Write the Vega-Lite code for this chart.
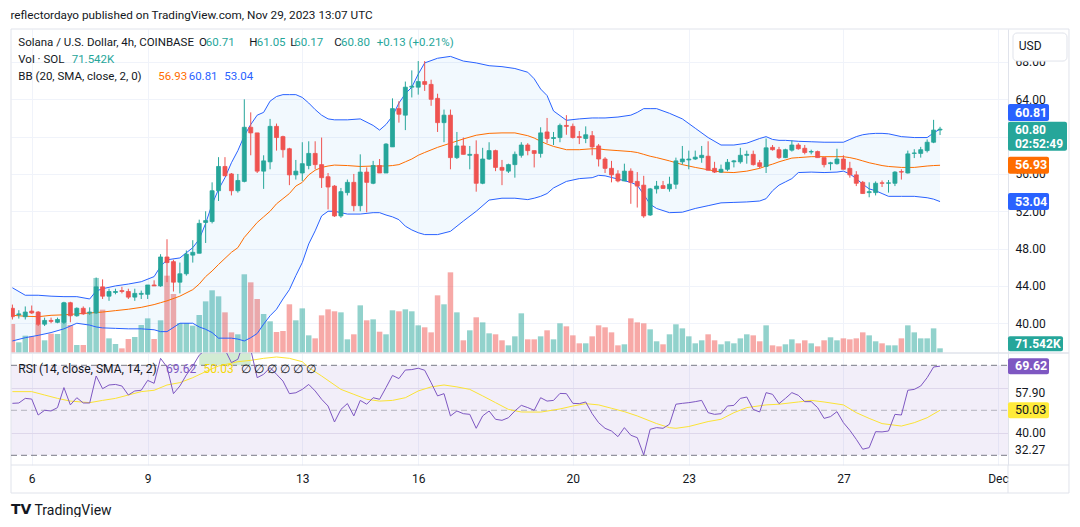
{
"$schema": "https://vega.github.io/schema/vega-lite/v6.json",
"padding": {"left": 10, "top": 9, "right": 0, "bottom": 0},
"background": "white",
"bounds": "flush",
"title": {"text": "reflectordayo published on TradingView.com, Nov 29, 2023 13:07 UTC", "anchor": "start", "font": "Roboto", "fontSize": 11.75, "fontWeight": "normal", "color": "#131722", "offset": 7},
"config": {"font": "Roboto", "view": {"stroke": null}, "axis": {"labelFont": "Roboto", "labelFontSize": 12, "labelColor": "#131722", "gridColor": "#f0f3fa", "domainColor": "#e0e3eb", "ticks": false}, "text": {"font": "Roboto"}, "scale": {"continuousPadding": 0}},
"datasets": {
"candles": [
{"t":"2023-11-05T12:00Z","o":41.6,"h":42.0,"l":40.4,"c":40.7,"v":444,"r":53.1},
{"t":"2023-11-05T16:00Z","o":40.9,"h":41.4,"l":40.5,"c":41.0,"v":163,"r":53.25},
{"t":"2023-11-05T20:00Z","o":40.7,"h":41.8,"l":40.4,"c":41.2,"v":265,"r":55.3},
{"t":"2023-11-06T00:00Z","o":41.3,"h":41.9,"l":41.0,"c":41.1,"v":255,"r":55.0},
{"t":"2023-11-06T04:00Z","o":41.2,"h":41.3,"l":39.7,"c":39.9,"v":444,"r":47.9},
{"t":"2023-11-06T08:00Z","o":39.9,"h":40.6,"l":39.7,"c":40.3,"v":194,"r":50.0},
{"t":"2023-11-06T12:00Z","o":40.3,"h":40.6,"l":40.0,"c":40.2,"v":296,"r":49.7},
{"t":"2023-11-06T16:00Z","o":40.1,"h":40.6,"l":40.0,"c":40.4,"v":291,"r":51.2},
{"t":"2023-11-06T20:00Z","o":40.1,"h":42.3,"l":39.9,"c":42.2,"v":765,"r":60.1},
{"t":"2023-11-07T00:00Z","o":42.2,"h":42.3,"l":40.1,"c":40.8,"v":428,"r":52.4},
{"t":"2023-11-07T04:00Z","o":40.8,"h":41.7,"l":40.7,"c":41.6,"v":122,"r":55.6},
{"t":"2023-11-07T08:00Z","o":41.6,"h":41.8,"l":40.9,"c":41.0,"v":122,"r":53.25},
{"t":"2023-11-07T12:00Z","o":41.1,"h":41.7,"l":40.9,"c":41.2,"v":612,"r":53.25},
{"t":"2023-11-07T16:00Z","o":41.1,"h":44.9,"l":41.0,"c":43.9,"v":1148,"r":65.25},
{"t":"2023-11-07T20:00Z","o":43.9,"h":44.7,"l":42.6,"c":42.9,"v":663,"r":59.6},
{"t":"2023-11-08T00:00Z","o":42.9,"h":43.7,"l":42.4,"c":43.4,"v":224,"r":61.25},
{"t":"2023-11-08T04:00Z","o":43.3,"h":43.7,"l":43.1,"c":43.4,"v":138,"r":61.5},
{"t":"2023-11-08T08:00Z","o":43.5,"h":43.9,"l":43.2,"c":43.4,"v":71,"r":60.8},
{"t":"2023-11-08T12:00Z","o":43.4,"h":43.7,"l":42.6,"c":42.8,"v":214,"r":56.8},
{"t":"2023-11-08T16:00Z","o":42.8,"h":43.7,"l":42.4,"c":43.2,"v":245,"r":58.6},
{"t":"2023-11-08T20:00Z","o":43.1,"h":43.5,"l":42.6,"c":43.2,"v":428,"r":58.9},
{"t":"2023-11-09T00:00Z","o":43.1,"h":44.1,"l":42.6,"c":44.1,"v":530,"r":63.3},
{"t":"2023-11-09T04:00Z","o":44.1,"h":44.6,"l":44.0,"c":44.0,"v":214,"r":62.0},
{"t":"2023-11-09T08:00Z","o":44.0,"h":47.4,"l":43.9,"c":47.1,"v":500,"r":73.1},
{"t":"2023-11-09T12:00Z","o":47.1,"h":49.0,"l":44.4,"c":46.5,"v":1183,"r":69.2},
{"t":"2023-11-09T16:00Z","o":46.6,"h":46.8,"l":43.4,"c":44.4,"v":903,"r":57.4},
{"t":"2023-11-09T20:00Z","o":44.4,"h":46.5,"l":43.2,"c":45.3,"v":459,"r":60.8},
{"t":"2023-11-10T00:00Z","o":45.3,"h":47.8,"l":45.1,"c":47.4,"v":459,"r":65.7},
{"t":"2023-11-10T04:00Z","o":47.3,"h":48.9,"l":46.5,"c":47.6,"v":418,"r":69.7},
{"t":"2023-11-10T08:00Z","o":47.5,"h":51.1,"l":47.5,"c":50.7,"v":581,"r":74.5},
{"t":"2023-11-10T12:00Z","o":50.8,"h":52.0,"l":48.6,"c":51.0,"v":790,"r":77},
{"t":"2023-11-10T16:00Z","o":50.9,"h":55.1,"l":50.7,"c":54.2,"v":959,"r":82},
{"t":"2023-11-10T20:00Z","o":54.2,"h":57.8,"l":53.1,"c":56.8,"v":867,"r":85},
{"t":"2023-11-11T00:00Z","o":56.8,"h":57.8,"l":55.8,"c":55.8,"v":622,"r":77},
{"t":"2023-11-11T04:00Z","o":56.0,"h":56.1,"l":53.7,"c":54.2,"v":316,"r":71.2},
{"t":"2023-11-11T08:00Z","o":54.2,"h":56.0,"l":54.0,"c":55.3,"v":286,"r":72.7},
{"t":"2023-11-11T12:00Z","o":55.2,"h":64.0,"l":55.1,"c":61.0,"v":1204,"r":81},
{"t":"2023-11-11T16:00Z","o":61.0,"h":62.6,"l":58.0,"c":60.4,"v":1081,"r":77},
{"t":"2023-11-11T20:00Z","o":60.4,"h":60.4,"l":56.1,"c":56.3,"v":826,"r":64.5},
{"t":"2023-11-12T00:00Z","o":56.3,"h":58.0,"l":54.4,"c":57.4,"v":597,"r":66.0},
{"t":"2023-11-12T04:00Z","o":57.3,"h":61.9,"l":56.5,"c":61.1,"v":485,"r":69.0},
{"t":"2023-11-12T08:00Z","o":61.1,"h":61.4,"l":58.5,"c":59.9,"v":321,"r":66.0},
{"t":"2023-11-12T12:00Z","o":60.0,"h":60.1,"l":57.75,"c":58.6,"v":337,"r":63.0},
{"t":"2023-11-12T16:00Z","o":58.7,"h":58.8,"l":54.8,"c":55.9,"v":745,"r":57.4},
{"t":"2023-11-12T20:00Z","o":55.9,"h":57.5,"l":55.4,"c":56.3,"v":500,"r":57.8},
{"t":"2023-11-13T00:00Z","o":56.1,"h":59.4,"l":55.25,"c":57.1,"v":683,"r":59.3},
{"t":"2023-11-13T04:00Z","o":56.9,"h":59.5,"l":56.5,"c":58.2,"v":270,"r":61.5},
{"t":"2023-11-13T08:00Z","o":58.2,"h":59.5,"l":56.5,"c":57.0,"v":224,"r":58.6},
{"t":"2023-11-13T12:00Z","o":57.0,"h":59.9,"l":54.5,"c":55.6,"v":576,"r":54.9},
{"t":"2023-11-13T16:00Z","o":55.7,"h":56.1,"l":52.2,"c":54.6,"v":668,"r":51.9},
{"t":"2023-11-13T20:00Z","o":54.7,"h":54.8,"l":51.4,"c":51.5,"v":638,"r":44.8},
{"t":"2023-11-14T00:00Z","o":51.5,"h":54.5,"l":51.3,"c":54.1,"v":622,"r":50.4},
{"t":"2023-11-14T04:00Z","o":54.0,"h":55.4,"l":53.7,"c":55.1,"v":209,"r":53.0},
{"t":"2023-11-14T08:00Z","o":55.1,"h":56.0,"l":52.0,"c":52.6,"v":286,"r":47.5},
{"t":"2023-11-14T12:00Z","o":52.6,"h":58.1,"l":52.0,"c":56.2,"v":729,"r":54.4},
{"t":"2023-11-14T16:00Z","o":56.2,"h":56.7,"l":51.9,"c":55.1,"v":500,"r":52.7},
{"t":"2023-11-14T20:00Z","o":55.0,"h":57.4,"l":54.9,"c":56.9,"v":515,"r":55.6},
{"t":"2023-11-15T00:00Z","o":56.9,"h":57.6,"l":56.1,"c":56.1,"v":326,"r":54.9},
{"t":"2023-11-15T04:00Z","o":56.1,"h":59.3,"l":56.1,"c":59.2,"v":286,"r":60.1},
{"t":"2023-11-15T08:00Z","o":58.9,"h":64.1,"l":58.9,"c":63.0,"v":653,"r":65.5},
{"t":"2023-11-15T12:00Z","o":63.0,"h":63.8,"l":61.5,"c":62.4,"v":638,"r":64.1},
{"t":"2023-11-15T16:00Z","o":62.3,"h":65.9,"l":60.7,"c":65.3,"v":668,"r":67.9},
{"t":"2023-11-15T20:00Z","o":65.3,"h":67.1,"l":64.2,"c":65.4,"v":638,"r":68.1},
{"t":"2023-11-16T00:00Z","o":65.3,"h":68.1,"l":64.5,"c":65.9,"v":423,"r":68.7},
{"t":"2023-11-16T04:00Z","o":65.9,"h":68.1,"l":64.9,"c":65.6,"v":393,"r":67.8},
{"t":"2023-11-16T08:00Z","o":65.6,"h":66.1,"l":63.3,"c":64.0,"v":316,"r":62.3},
{"t":"2023-11-16T12:00Z","o":64.1,"h":64.6,"l":60.5,"c":61.5,"v":882,"r":56.4},
{"t":"2023-11-16T16:00Z","o":61.5,"h":62.9,"l":59.4,"c":62.3,"v":745,"r":57.4},
{"t":"2023-11-16T20:00Z","o":62.3,"h":62.9,"l":56.5,"c":57.75,"v":1234,"r":47.5},
{"t":"2023-11-17T00:00Z","o":57.75,"h":60.5,"l":57.6,"c":59.0,"v":622,"r":49.7},
{"t":"2023-11-17T04:00Z","o":59.0,"h":59.9,"l":58.1,"c":58.1,"v":194,"r":48.5},
{"t":"2023-11-17T08:00Z","o":58.0,"h":59.0,"l":56.5,"c":58.1,"v":347,"r":48.2},
{"t":"2023-11-17T12:00Z","o":58.1,"h":59.6,"l":54.1,"c":55.0,"v":546,"r":42.0},
{"t":"2023-11-17T16:00Z","o":55.0,"h":58.8,"l":54.9,"c":57.6,"v":469,"r":47.5},
{"t":"2023-11-17T20:00Z","o":57.6,"h":59.4,"l":57.5,"c":58.5,"v":301,"r":49.7},
{"t":"2023-11-18T00:00Z","o":58.5,"h":58.6,"l":56.3,"c":56.7,"v":286,"r":46.0},
{"t":"2023-11-18T04:00Z","o":56.7,"h":57.5,"l":54.8,"c":56.4,"v":194,"r":45.55},
{"t":"2023-11-18T08:00Z","o":56.3,"h":57.1,"l":56.1,"c":57.0,"v":117,"r":46.7},
{"t":"2023-11-18T12:00Z","o":57.0,"h":58.4,"l":55.6,"c":58.1,"v":255,"r":49.7},
{"t":"2023-11-18T16:00Z","o":58.0,"h":59.4,"l":57.75,"c":59.1,"v":607,"r":52.2},
{"t":"2023-11-18T20:00Z","o":59.1,"h":59.3,"l":58.0,"c":58.5,"v":209,"r":51.2},
{"t":"2023-11-19T00:00Z","o":58.5,"h":58.5,"l":56.7,"c":58.2,"v":209,"r":50.0},
{"t":"2023-11-19T04:00Z","o":58.2,"h":61.0,"l":57.75,"c":60.4,"v":255,"r":55.6},
{"t":"2023-11-19T08:00Z","o":60.5,"h":62.0,"l":59.3,"c":59.8,"v":347,"r":54.1},
{"t":"2023-11-19T12:00Z","o":59.8,"h":60.5,"l":59.1,"c":59.9,"v":209,"r":54.4},
{"t":"2023-11-19T16:00Z","o":59.9,"h":61.4,"l":59.4,"c":61.2,"v":454,"r":57.5},
{"t":"2023-11-19T20:00Z","o":61.2,"h":62.3,"l":60.2,"c":61.1,"v":408,"r":57.4},
{"t":"2023-11-20T00:00Z","o":61.1,"h":61.4,"l":59.8,"c":59.9,"v":270,"r":53.1},
{"t":"2023-11-20T04:00Z","o":60.0,"h":60.6,"l":59.2,"c":59.9,"v":148,"r":52.95},
{"t":"2023-11-20T08:00Z","o":59.8,"h":61.1,"l":59.3,"c":60.2,"v":148,"r":53.7},
{"t":"2023-11-20T12:00Z","o":60.1,"h":60.6,"l":58.0,"c":58.9,"v":255,"r":48.5},
{"t":"2023-11-20T16:00Z","o":59.0,"h":59.2,"l":56.8,"c":57.6,"v":423,"r":44.5},
{"t":"2023-11-20T20:00Z","o":57.6,"h":57.8,"l":56.1,"c":56.6,"v":393,"r":42.0},
{"t":"2023-11-21T00:00Z","o":56.6,"h":57.4,"l":55.1,"c":55.9,"v":316,"r":40.8},
{"t":"2023-11-21T04:00Z","o":56.0,"h":56.4,"l":55.1,"c":55.25,"v":117,"r":38.3},
{"t":"2023-11-21T08:00Z","o":55.25,"h":57.1,"l":55.25,"c":56.3,"v":133,"r":42.3},
{"t":"2023-11-21T12:00Z","o":56.3,"h":56.6,"l":52.8,"c":55.1,"v":530,"r":38.9},
{"t":"2023-11-21T16:00Z","o":55.2,"h":56.2,"l":52.4,"c":54.7,"v":469,"r":37.85},
{"t":"2023-11-21T20:00Z","o":54.8,"h":55.8,"l":51.3,"c":51.5,"v":454,"r":30.15},
{"t":"2023-11-22T00:00Z","o":51.6,"h":54.5,"l":51.5,"c":54.4,"v":362,"r":41.55},
{"t":"2023-11-22T04:00Z","o":54.4,"h":55.25,"l":53.9,"c":54.7,"v":179,"r":42.3},
{"t":"2023-11-22T08:00Z","o":54.75,"h":55.25,"l":54.4,"c":54.45,"v":133,"r":42.0},
{"t":"2023-11-22T12:00Z","o":54.4,"h":55.7,"l":54.1,"c":54.9,"v":286,"r":43.8},
{"t":"2023-11-22T16:00Z","o":54.9,"h":57.75,"l":54.4,"c":57.4,"v":439,"r":52.7},
{"t":"2023-11-22T20:00Z","o":57.3,"h":59.0,"l":57.0,"c":57.6,"v":377,"r":53.1},
{"t":"2023-11-23T00:00Z","o":57.5,"h":58.5,"l":56.5,"c":57.6,"v":255,"r":53.4},
{"t":"2023-11-23T04:00Z","o":57.6,"h":58.5,"l":57.5,"c":57.8,"v":148,"r":53.85},
{"t":"2023-11-23T08:00Z","o":57.75,"h":59.0,"l":57.2,"c":58.0,"v":194,"r":54.4},
{"t":"2023-11-23T12:00Z","o":57.9,"h":59.5,"l":56.4,"c":56.4,"v":286,"r":48.95},
{"t":"2023-11-23T16:00Z","o":56.6,"h":57.3,"l":56.1,"c":56.2,"v":194,"r":48.2},
{"t":"2023-11-23T20:00Z","o":56.2,"h":57.0,"l":56.1,"c":56.5,"v":133,"r":48.5},
{"t":"2023-11-24T00:00Z","o":56.5,"h":57.6,"l":56.3,"c":57.25,"v":179,"r":51.9},
{"t":"2023-11-24T04:00Z","o":57.3,"h":57.5,"l":56.7,"c":57.4,"v":148,"r":52.2},
{"t":"2023-11-24T08:00Z","o":57.3,"h":58.8,"l":57.1,"c":58.0,"v":224,"r":55.3},
{"t":"2023-11-24T12:00Z","o":58.0,"h":58.5,"l":57.1,"c":58.1,"v":286,"r":55.9},
{"t":"2023-11-24T16:00Z","o":58.1,"h":58.5,"l":56.9,"c":57.0,"v":270,"r":50.4},
{"t":"2023-11-24T20:00Z","o":57.2,"h":57.5,"l":56.6,"c":56.8,"v":179,"r":49.25},
{"t":"2023-11-25T00:00Z","o":56.8,"h":59.8,"l":56.1,"c":58.8,"v":423,"r":57.85},
{"t":"2023-11-25T04:00Z","o":58.85,"h":59.1,"l":58.5,"c":58.6,"v":117,"r":57.1},
{"t":"2023-11-25T08:00Z","o":58.6,"h":58.9,"l":57.6,"c":57.75,"v":102,"r":52.95},
{"t":"2023-11-25T12:00Z","o":57.75,"h":58.7,"l":57.7,"c":58.6,"v":133,"r":55.3},
{"t":"2023-11-25T16:00Z","o":58.55,"h":59.6,"l":58.4,"c":59.1,"v":209,"r":57.85},
{"t":"2023-11-25T20:00Z","o":59.1,"h":59.3,"l":58.6,"c":58.7,"v":148,"r":56.65},
{"t":"2023-11-26T00:00Z","o":58.75,"h":59.1,"l":58.1,"c":58.3,"v":194,"r":53.85},
{"t":"2023-11-26T04:00Z","o":58.35,"h":58.6,"l":58.1,"c":58.4,"v":148,"r":53.85},
{"t":"2023-11-26T08:00Z","o":58.4,"h":58.5,"l":57.75,"c":57.75,"v":102,"r":51.2},
{"t":"2023-11-26T12:00Z","o":57.75,"h":57.75,"l":56.7,"c":57.0,"v":194,"r":46.4},
{"t":"2023-11-26T16:00Z","o":57.1,"h":57.3,"l":56.4,"c":57.2,"v":240,"r":47.2},
{"t":"2023-11-26T20:00Z","o":57.1,"h":58.7,"l":57.0,"c":57.6,"v":194,"r":49.4},
{"t":"2023-11-27T00:00Z","o":57.6,"h":58.0,"l":56.5,"c":56.5,"v":224,"r":44.5},
{"t":"2023-11-27T04:00Z","o":56.6,"h":57.3,"l":55.6,"c":55.9,"v":209,"r":41.1},
{"t":"2023-11-27T08:00Z","o":55.9,"h":56.3,"l":54.7,"c":55.0,"v":224,"r":37.1},
{"t":"2023-11-27T12:00Z","o":55.1,"h":55.25,"l":53.9,"c":53.9,"v":316,"r":32.7},
{"t":"2023-11-27T16:00Z","o":54.0,"h":55.1,"l":53.5,"c":54.1,"v":270,"r":33.4},
{"t":"2023-11-27T20:00Z","o":54.0,"h":55.2,"l":53.7,"c":55.0,"v":179,"r":40.5},
{"t":"2023-11-28T00:00Z","o":55.05,"h":55.3,"l":54.6,"c":55.0,"v":148,"r":40.4},
{"t":"2023-11-28T04:00Z","o":55.0,"h":55.35,"l":54.0,"c":55.05,"v":117,"r":40.8},
{"t":"2023-11-28T08:00Z","o":55.0,"h":56.3,"l":54.7,"c":56.2,"v":117,"r":48.2},
{"t":"2023-11-28T12:00Z","o":56.25,"h":56.5,"l":55.4,"c":56.2,"v":224,"r":47.9},
{"t":"2023-11-28T16:00Z","o":56.1,"h":58.5,"l":56.05,"c":58.15,"v":423,"r":58.9},
{"t":"2023-11-28T20:00Z","o":58.2,"h":58.65,"l":57.7,"c":58.25,"v":316,"r":59.3},
{"t":"2023-11-29T00:00Z","o":58.2,"h":58.9,"l":57.75,"c":58.6,"v":224,"r":60.8},
{"t":"2023-11-29T04:00Z","o":58.5,"h":59.7,"l":58.3,"c":59.4,"v":224,"r":64.5},
{"t":"2023-11-29T08:00Z","o":59.4,"h":61.8,"l":59.3,"c":60.7,"v":377,"r":69.25},
{"t":"2023-11-29T12:00Z","o":60.71,"h":61.05,"l":60.17,"c":60.8,"v":71.542,"r":69.62}
],
"bb": [
{"t":"2023-11-05T12:00Z","up":43.8,"mid":40.85,"lo":38.1},
{"t":"2023-11-05T20:00Z","up":43.0,"mid":40.75,"lo":38.45},
{"t":"2023-11-06T04:00Z","up":43.0,"mid":40.7,"lo":38.7},
{"t":"2023-11-06T12:00Z","up":42.9,"mid":40.85,"lo":39.0},
{"t":"2023-11-06T20:00Z","up":42.85,"mid":40.9,"lo":39.4},
{"t":"2023-11-07T04:00Z","up":42.85,"mid":41.0,"lo":40.0},
{"t":"2023-11-07T12:00Z","up":42.6,"mid":41.1,"lo":39.8},
{"t":"2023-11-07T16:00Z","up":43.45,"mid":41.15,"lo":39.6},
{"t":"2023-11-07T20:00Z","up":43.7,"mid":41.2,"lo":39.5},
{"t":"2023-11-08T04:00Z","up":44.0,"mid":41.35,"lo":39.45},
{"t":"2023-11-08T12:00Z","up":44.2,"mid":41.5,"lo":39.4},
{"t":"2023-11-08T20:00Z","up":44.45,"mid":41.7,"lo":39.4},
{"t":"2023-11-09T04:00Z","up":45.0,"mid":42.0,"lo":39.3},
{"t":"2023-11-09T08:00Z","up":46.1,"mid":42.2,"lo":39.1},
{"t":"2023-11-09T12:00Z","up":46.8,"mid":42.4,"lo":39.1},
{"t":"2023-11-09T20:00Z","up":47.0,"mid":42.9,"lo":40.0},
{"t":"2023-11-10T04:00Z","up":48.1,"mid":43.6,"lo":40.0},
{"t":"2023-11-10T08:00Z","up":49.0,"mid":44.2,"lo":39.6},
{"t":"2023-11-10T12:00Z","up":50.7,"mid":45.0,"lo":39.35},
{"t":"2023-11-10T16:00Z","up":52.75,"mid":45.6,"lo":39.0},
{"t":"2023-11-10T20:00Z","up":54.35,"mid":46.3,"lo":38.4},
{"t":"2023-11-11T00:00Z","up":55.6,"mid":46.95,"lo":38.4},
{"t":"2023-11-11T04:00Z","up":57.2,"mid":47.6,"lo":38.4},
{"t":"2023-11-11T08:00Z","up":58.5,"mid":48.1,"lo":38.3},
{"t":"2023-11-11T12:00Z","up":60.1,"mid":49.2,"lo":38.1},
{"t":"2023-11-11T16:00Z","up":61.3,"mid":50.0,"lo":38.45},
{"t":"2023-11-11T20:00Z","up":62.3,"mid":50.8,"lo":38.9},
{"t":"2023-11-12T00:00Z","up":62.6,"mid":51.4,"lo":39.9},
{"t":"2023-11-12T04:00Z","up":63.8,"mid":52.0,"lo":40.8},
{"t":"2023-11-12T08:00Z","up":64.3,"mid":52.8,"lo":41.5},
{"t":"2023-11-12T12:00Z","up":64.5,"mid":53.35,"lo":42.6},
{"t":"2023-11-12T16:00Z","up":64.5,"mid":53.9,"lo":43.6},
{"t":"2023-11-12T20:00Z","up":64.5,"mid":54.7,"lo":45.1},
{"t":"2023-11-13T00:00Z","up":64.2,"mid":55.1,"lo":46.5},
{"t":"2023-11-13T04:00Z","up":63.6,"mid":55.9,"lo":48.5},
{"t":"2023-11-13T08:00Z","up":62.9,"mid":56.4,"lo":49.9},
{"t":"2023-11-13T12:00Z","up":62.3,"mid":56.7,"lo":51.5},
{"t":"2023-11-13T16:00Z","up":61.9,"mid":56.85,"lo":52.0},
{"t":"2023-11-13T20:00Z","up":61.8,"mid":56.95,"lo":52.0},
{"t":"2023-11-14T04:00Z","up":61.8,"mid":56.9,"lo":51.7},
{"t":"2023-11-14T12:00Z","up":61.9,"mid":56.8,"lo":51.7},
{"t":"2023-11-14T20:00Z","up":61.2,"mid":56.85,"lo":51.85},
{"t":"2023-11-15T00:00Z","up":60.7,"mid":56.85,"lo":51.85},
{"t":"2023-11-15T04:00Z","up":61.3,"mid":56.85,"lo":51.6},
{"t":"2023-11-15T08:00Z","up":62.2,"mid":56.9,"lo":51.4},
{"t":"2023-11-15T12:00Z","up":63.6,"mid":57.0,"lo":51.1},
{"t":"2023-11-15T16:00Z","up":64.6,"mid":57.3,"lo":50.4},
{"t":"2023-11-15T20:00Z","up":65.3,"mid":57.6,"lo":50.0},
{"t":"2023-11-16T00:00Z","up":66.7,"mid":58.0,"lo":49.7},
{"t":"2023-11-16T04:00Z","up":67.9,"mid":58.3,"lo":49.5},
{"t":"2023-11-16T12:00Z","up":68.4,"mid":58.85,"lo":49.5},
{"t":"2023-11-16T20:00Z","up":68.6,"mid":59.3,"lo":49.85},
{"t":"2023-11-17T04:00Z","up":68.1,"mid":59.75,"lo":50.95},
{"t":"2023-11-17T12:00Z","up":67.9,"mid":60.15,"lo":52.0},
{"t":"2023-11-17T20:00Z","up":67.6,"mid":60.35,"lo":53.2},
{"t":"2023-11-18T04:00Z","up":67.5,"mid":60.4,"lo":53.4},
{"t":"2023-11-18T12:00Z","up":67.3,"mid":60.4,"lo":53.4},
{"t":"2023-11-18T20:00Z","up":66.9,"mid":60.1,"lo":53.25},
{"t":"2023-11-19T00:00Z","up":66.2,"mid":59.85,"lo":53.4},
{"t":"2023-11-19T04:00Z","up":65.1,"mid":59.5,"lo":53.6},
{"t":"2023-11-19T08:00Z","up":64.4,"mid":59.2,"lo":53.9},
{"t":"2023-11-19T12:00Z","up":62.75,"mid":58.95,"lo":54.5},
{"t":"2023-11-19T20:00Z","up":61.75,"mid":58.6,"lo":55.2},
{"t":"2023-11-20T04:00Z","up":61.9,"mid":58.6,"lo":55.5},
{"t":"2023-11-20T12:00Z","up":62.0,"mid":58.7,"lo":55.6},
{"t":"2023-11-20T16:00Z","up":62.0,"mid":58.7,"lo":55.85},
{"t":"2023-11-20T20:00Z","up":62.0,"mid":58.6,"lo":55.8},
{"t":"2023-11-21T04:00Z","up":62.1,"mid":58.5,"lo":55.45},
{"t":"2023-11-21T12:00Z","up":62.3,"mid":58.4,"lo":55.1},
{"t":"2023-11-21T16:00Z","up":62.6,"mid":58.3,"lo":54.8},
{"t":"2023-11-21T20:00Z","up":63.0,"mid":58.1,"lo":53.8},
{"t":"2023-11-22T00:00Z","up":63.0,"mid":57.9,"lo":52.75},
{"t":"2023-11-22T04:00Z","up":63.0,"mid":57.75,"lo":52.3},
{"t":"2023-11-22T12:00Z","up":62.5,"mid":57.4,"lo":51.85},
{"t":"2023-11-22T20:00Z","up":61.9,"mid":57.0,"lo":51.9},
{"t":"2023-11-23T04:00Z","up":60.9,"mid":56.7,"lo":52.3},
{"t":"2023-11-23T12:00Z","up":59.9,"mid":56.45,"lo":52.6},
{"t":"2023-11-23T20:00Z","up":59.1,"mid":56.2,"lo":52.9},
{"t":"2023-11-24T04:00Z","up":59.1,"mid":56.15,"lo":52.95},
{"t":"2023-11-24T12:00Z","up":59.3,"mid":56.3,"lo":53.0},
{"t":"2023-11-24T20:00Z","up":59.8,"mid":56.6,"lo":53.1},
{"t":"2023-11-25T00:00Z","up":60.0,"mid":56.85,"lo":53.35},
{"t":"2023-11-25T04:00Z","up":59.7,"mid":57.05,"lo":54.2},
{"t":"2023-11-25T08:00Z","up":59.6,"mid":57.3,"lo":54.8},
{"t":"2023-11-25T12:00Z","up":59.6,"mid":57.5,"lo":55.15},
{"t":"2023-11-25T16:00Z","up":59.55,"mid":57.7,"lo":55.5},
{"t":"2023-11-25T20:00Z","up":59.5,"mid":57.75,"lo":56.15},
{"t":"2023-11-26T04:00Z","up":59.45,"mid":57.85,"lo":56.2},
{"t":"2023-11-26T12:00Z","up":59.4,"mid":57.85,"lo":56.15},
{"t":"2023-11-26T20:00Z","up":59.4,"mid":57.85,"lo":56.2},
{"t":"2023-11-27T00:00Z","up":59.4,"mid":57.85,"lo":56.3},
{"t":"2023-11-27T04:00Z","up":59.7,"mid":57.75,"lo":56.0},
{"t":"2023-11-27T08:00Z","up":60.0,"mid":57.6,"lo":55.5},
{"t":"2023-11-27T12:00Z","up":60.2,"mid":57.4,"lo":54.9},
{"t":"2023-11-27T16:00Z","up":60.3,"mid":57.2,"lo":54.4},
{"t":"2023-11-27T20:00Z","up":60.35,"mid":57.05,"lo":54.2},
{"t":"2023-11-28T00:00Z","up":60.35,"mid":56.9,"lo":53.9},
{"t":"2023-11-28T04:00Z","up":60.3,"mid":56.8,"lo":53.6},
{"t":"2023-11-28T12:00Z","up":60.0,"mid":56.7,"lo":53.6},
{"t":"2023-11-28T20:00Z","up":59.9,"mid":56.7,"lo":53.6},
{"t":"2023-11-29T04:00Z","up":59.9,"mid":56.85,"lo":53.45},
{"t":"2023-11-29T08:00Z","up":60.4,"mid":56.9,"lo":53.3},
{"t":"2023-11-29T12:00Z","up":60.81,"mid":56.93,"lo":53.04}
],
"sma": [
{"t":"2023-11-05T12:00Z","s":58.3},{"t":"2023-11-06T00:00Z","s":58.3},{"t":"2023-11-06T08:00Z","s":56.8},{"t":"2023-11-06T16:00Z","s":55.3},
{"t":"2023-11-07T00:00Z","s":54.1},{"t":"2023-11-07T12:00Z","s":53.4},{"t":"2023-11-07T20:00Z","s":54.4},{"t":"2023-11-08T04:00Z","s":55.3},
{"t":"2023-11-08T12:00Z","s":56.8},{"t":"2023-11-08T20:00Z","s":58.3},{"t":"2023-11-09T04:00Z","s":58.9},{"t":"2023-11-09T12:00Z","s":61.25},
{"t":"2023-11-09T20:00Z","s":62.3},{"t":"2023-11-10T04:00Z","s":64.5},{"t":"2023-11-10T12:00Z","s":67.2},{"t":"2023-11-10T20:00Z","s":69.7},
{"t":"2023-11-11T08:00Z","s":71.6},{"t":"2023-11-11T16:00Z","s":72.2},{"t":"2023-11-12T00:00Z","s":73.1},{"t":"2023-11-12T08:00Z","s":73.7},
{"t":"2023-11-12T16:00Z","s":73.1},{"t":"2023-11-13T00:00Z","s":71.6},{"t":"2023-11-13T04:00Z","s":68.95},{"t":"2023-11-13T12:00Z","s":65.25},
{"t":"2023-11-14T00:00Z","s":59.3},{"t":"2023-11-14T08:00Z","s":57.1},{"t":"2023-11-14T16:00Z","s":54.9},{"t":"2023-11-15T00:00Z","s":54.1},
{"t":"2023-11-15T08:00Z","s":54.4},{"t":"2023-11-15T16:00Z","s":55.6},{"t":"2023-11-16T00:00Z","s":58.6},{"t":"2023-11-16T08:00Z","s":60.4},
{"t":"2023-11-16T16:00Z","s":61.25},{"t":"2023-11-17T00:00Z","s":60.4},{"t":"2023-11-17T08:00Z","s":59.3},{"t":"2023-11-17T16:00Z","s":56.4},
{"t":"2023-11-18T00:00Z","s":53.4},{"t":"2023-11-18T08:00Z","s":50.4},{"t":"2023-11-18T16:00Z","s":49.25},{"t":"2023-11-19T04:00Z","s":49.2},
{"t":"2023-11-19T16:00Z","s":50.6},{"t":"2023-11-20T00:00Z","s":51.9},{"t":"2023-11-20T08:00Z","s":52.95},{"t":"2023-11-20T16:00Z","s":52.4},
{"t":"2023-11-21T00:00Z","s":50.9},{"t":"2023-11-21T08:00Z","s":49.4},{"t":"2023-11-21T16:00Z","s":47.5},{"t":"2023-11-22T04:00Z","s":44.1},
{"t":"2023-11-22T12:00Z","s":42.3},{"t":"2023-11-22T16:00Z","s":42.0},{"t":"2023-11-23T00:00Z","s":42.8},{"t":"2023-11-23T12:00Z","s":45.0},
{"t":"2023-11-23T20:00Z","s":46.0},{"t":"2023-11-24T04:00Z","s":48.95},{"t":"2023-11-24T12:00Z","s":51.2},{"t":"2023-11-25T00:00Z","s":52.4},
{"t":"2023-11-25T08:00Z","s":52.7},{"t":"2023-11-25T20:00Z","s":53.7},{"t":"2023-11-26T04:00Z","s":54.4},{"t":"2023-11-26T12:00Z","s":53.7},
{"t":"2023-11-27T00:00Z","s":52.4},{"t":"2023-11-27T08:00Z","s":48.95},{"t":"2023-11-27T16:00Z","s":46.4},{"t":"2023-11-28T00:00Z","s":44.1},
{"t":"2023-11-28T12:00Z","s":43.0},{"t":"2023-11-28T20:00Z","s":44.5},{"t":"2023-11-29T04:00Z","s":46.7},{"t":"2023-11-29T12:00Z","s":50.03}
]
},
"spacing": 0,
"vconcat": [
{
"width": 997, "height": 324,
"resolve": {"scale": {"y": "independent"}},
"layer": [
{"layer": [
  {"data": {"name": "candles"}, "mark": {"type": "bar", "size": 5.5, "opacity": 0.5, "clip": true},
   "encoding": {"x": {"field": "t", "type": "temporal", "scale": {"domain": [{"year":2023,"month":11,"date":5,"hours":11,"minutes":8,"utc":true},{"year":2023,"month":12,"date":1,"hours":6,"minutes":12,"utc":true}], "padding": 0},
       "axis": {"values": [{"year":2023,"month":11,"date":6,"utc":true},{"year":2023,"month":11,"date":9,"utc":true},{"year":2023,"month":11,"date":13,"utc":true},{"year":2023,"month":11,"date":16,"utc":true},{"year":2023,"month":11,"date":20,"utc":true},{"year":2023,"month":11,"date":23,"utc":true},{"year":2023,"month":11,"date":27,"utc":true},{"year":2023,"month":12,"date":1,"utc":true}],
         "grid": true, "labels": false, "ticks": false, "domain": false, "title": null, "gridColor": "#f0f3fa", "minExtent": 0, "maxExtent": 0, "labelPadding": 0}},
     "y": {"field": "v", "type": "quantitative", "scale": {"domain": [0, 4957], "nice": false, "padding": 0}, "axis": null},
     "color": {"condition": {"test": "datum.c >= datum.o", "value": "#26a69a"}, "value": "#ef5350"}}},
  {"data": {"values": [{}]}, "mark": {"type": "bar", "size": 15, "color": "#26a69a", "yOffset": -4.5, "cornerRadius": 2},
   "encoding": {"x": {"datum": {"year":2023,"month":12,"date":1,"hours":6,"minutes":12,"utc":true}}, "x2": {"datum": {"year":2023,"month":12,"date":2,"hours":16,"minutes":21,"utc":true}}, "y": {"datum": 71.542, "type": "quantitative", "axis": null}}},
  {"data": {"values": [{}]}, "mark": {"type": "text", "text": "71.542K", "color": "white", "fontWeight": "bold", "fontSize": 12, "align": "left", "baseline": "middle", "yOffset": -4.5},
   "encoding": {"x": {"datum": {"year":2023,"month":12,"date":1,"hours":10,"minutes":32,"utc":true}}, "y": {"datum": 71.542, "type": "quantitative", "axis": null}}}
]},
{"layer": [
  {"data": {"name": "bb"}, "mark": {"type": "area", "color": "#2196f3", "opacity": 0.06, "clip": true},
   "encoding": {"x": {"field": "t", "type": "temporal"},
     "y": {"field": "up", "type": "quantitative", "scale": {"domain": [36.81, 71.535], "nice": false, "zero": false, "padding": 0},
       "axis": {"orient": "right", "values": [40,44,48,52,56,60,64,68], "format": ".2f", "grid": true, "gridColor": "#f0f3fa", "ticks": false, "domain": true, "domainColor": "#e0e3eb", "labelPadding": 7, "title": null, "labelOverlap": false}},
     "y2": {"field": "lo"}}},
  {"data": {"values": [{}]}, "mark": {"type": "rect", "fillOpacity": 0, "stroke": "#e0e3eb", "strokeWidth": 1},
   "encoding": {"x": {"datum": {"year":2023,"month":11,"date":5,"hours":11,"minutes":8,"utc":true}}, "x2": {"datum": {"year":2023,"month":12,"date":2,"hours":20,"minutes":4,"utc":true}},
     "y": {"datum": 71.535, "type": "quantitative"}, "y2": {"datum": 36.81}}},
  {"data": {"name": "bb"}, "mark": {"type": "line", "color": "#2962ff", "strokeWidth": 1, "clip": true},
   "encoding": {"x": {"field": "t", "type": "temporal"}, "y": {"field": "up", "type": "quantitative"}}},
  {"data": {"name": "bb"}, "mark": {"type": "line", "color": "#ff6d00", "strokeWidth": 1, "clip": true},
   "encoding": {"x": {"field": "t", "type": "temporal"}, "y": {"field": "mid", "type": "quantitative"}}},
  {"data": {"name": "bb"}, "mark": {"type": "line", "color": "#2962ff", "strokeWidth": 1, "clip": true},
   "encoding": {"x": {"field": "t", "type": "temporal"}, "y": {"field": "lo", "type": "quantitative"}}},
  {"data": {"name": "candles"}, "mark": {"type": "rule", "strokeWidth": 1, "clip": true},
   "encoding": {"x": {"field": "t", "type": "temporal"}, "y": {"field": "l", "type": "quantitative"}, "y2": {"field": "h"},
     "color": {"condition": {"test": "datum.c >= datum.o", "value": "#26a69a"}, "value": "#ef5350"}}},
  {"data": {"name": "candles"}, "mark": {"type": "bar", "size": 4, "strokeWidth": 0.8, "clip": true},
   "encoding": {"x": {"field": "t", "type": "temporal"}, "y": {"field": "o", "type": "quantitative"}, "y2": {"field": "c"},
     "color": {"condition": {"test": "datum.c >= datum.o", "value": "#26a69a"}, "value": "#ef5350"},
     "stroke": {"condition": {"test": "datum.c >= datum.o", "value": "#26a69a"}, "value": "#ef5350"}}},
  {"data": {"values": [{}]}, "mark": {"type": "rect", "fill": "white", "stroke": "#e0e3eb", "cornerRadius": 4},
   "encoding": {"x": {"datum": {"year":2023,"month":12,"date":1,"hours":9,"minutes":18,"utc":true}}, "x2": {"datum": {"year":2023,"month":12,"date":2,"hours":18,"minutes":50,"utc":true}}, "y": {"datum": 71.106, "type": "quantitative"}, "y2": {"datum": 68.1}}},
  {"data": {"values": [{}]}, "mark": {"type": "text", "text": "USD", "color": "#131722", "fontSize": 12, "align": "center", "baseline": "middle"},
   "encoding": {"x": {"datum": {"year":2023,"month":12,"date":1,"hours":20,"minutes":0,"utc":true}}, "y": {"datum": 69.71, "type": "quantitative"}}},
  {"data": {"values": [{}]}, "mark": {"type": "bar", "size": 17, "color": "#2962ff", "yOffset": -16.5, "cornerRadius": 2},
   "encoding": {"x": {"datum": {"year":2023,"month":12,"date":1,"hours":6,"minutes":12,"utc":true}}, "x2": {"datum": {"year":2023,"month":12,"date":2,"hours":7,"minutes":40,"utc":true}}, "y": {"datum": 60.81, "type": "quantitative"}}},
  {"data": {"values": [{}]}, "mark": {"type": "bar", "size": 29, "color": "#26a69a", "yOffset": 7, "cornerRadius": 2},
   "encoding": {"x": {"datum": {"year":2023,"month":12,"date":1,"hours":6,"minutes":12,"utc":true}}, "x2": {"datum": {"year":2023,"month":12,"date":2,"hours":18,"minutes":50,"utc":true}}, "y": {"datum": 60.8, "type": "quantitative"}}},
  {"data": {"values": [{}]}, "mark": {"type": "bar", "size": 17, "color": "#ff6d00", "cornerRadius": 2},
   "encoding": {"x": {"datum": {"year":2023,"month":12,"date":1,"hours":6,"minutes":12,"utc":true}}, "x2": {"datum": {"year":2023,"month":12,"date":2,"hours":7,"minutes":40,"utc":true}}, "y": {"datum": 56.93, "type": "quantitative"}}},
  {"data": {"values": [{}]}, "mark": {"type": "bar", "size": 17, "color": "#2962ff", "cornerRadius": 2},
   "encoding": {"x": {"datum": {"year":2023,"month":12,"date":1,"hours":6,"minutes":12,"utc":true}}, "x2": {"datum": {"year":2023,"month":12,"date":2,"hours":7,"minutes":40,"utc":true}}, "y": {"datum": 53.04, "type": "quantitative"}}},
  {"data": {"values": [{}]}, "mark": {"type": "text", "text": "60.81", "color": "white", "fontWeight": "bold", "fontSize": 12.5, "align": "left", "baseline": "middle", "yOffset": -16.5},
   "encoding": {"x": {"datum": {"year":2023,"month":12,"date":1,"hours":10,"minutes":32,"utc":true}}, "y": {"datum": 60.81, "type": "quantitative"}}},
  {"data": {"values": [{}]}, "mark": {"type": "text", "text": "60.80", "color": "white", "fontWeight": "bold", "fontSize": 12, "align": "left", "baseline": "middle", "yOffset": 0.5},
   "encoding": {"x": {"datum": {"year":2023,"month":12,"date":1,"hours":10,"minutes":32,"utc":true}}, "y": {"datum": 60.8, "type": "quantitative"}}},
  {"data": {"values": [{}]}, "mark": {"type": "text", "text": "02:52:49", "color": "white", "fontWeight": "bold", "fontSize": 12, "align": "left", "baseline": "middle", "yOffset": 14.5},
   "encoding": {"x": {"datum": {"year":2023,"month":12,"date":1,"hours":10,"minutes":32,"utc":true}}, "y": {"datum": 60.8, "type": "quantitative"}}},
  {"data": {"values": [{}]}, "mark": {"type": "text", "text": "56.93", "color": "white", "fontWeight": "bold", "fontSize": 12.5, "align": "left", "baseline": "middle"},
   "encoding": {"x": {"datum": {"year":2023,"month":12,"date":1,"hours":10,"minutes":32,"utc":true}}, "y": {"datum": 56.93, "type": "quantitative"}}},
  {"data": {"values": [{}]}, "mark": {"type": "text", "text": "53.04", "color": "white", "fontWeight": "bold", "fontSize": 12.5, "align": "left", "baseline": "middle"},
   "encoding": {"x": {"datum": {"year":2023,"month":12,"date":1,"hours":10,"minutes":32,"utc":true}}, "y": {"datum": 53.04, "type": "quantitative"}}},
  {"data": {"values": [{}]}, "mark": {"type": "text", "text": "Solana / U.S. Dollar, 4h, COINBASE", "color": "#131722", "fontSize": 11.5, "align": "left", "baseline": "middle"},
   "encoding": {"x": {"datum": {"year":2023,"month":11,"date":5,"hours":15,"minutes":40,"utc":true}}, "y": {"datum": 70.07, "type": "quantitative"}}},
  {"data": {"values": [{}]}, "mark": {"type": "text", "text": "O", "color": "#131722", "fontSize": 11.5, "align": "left", "baseline": "middle"},
   "encoding": {"x": {"datum": {"year":2023,"month":11,"date":10,"hours":7,"minutes":52,"utc":true}}, "y": {"datum": 70.07, "type": "quantitative"}}},
  {"data": {"values": [{}]}, "mark": {"type": "text", "text": "60.71", "color": "#26a69a", "fontSize": 11.5, "align": "left", "baseline": "middle"},
   "encoding": {"x": {"datum": {"year":2023,"month":11,"date":10,"hours":12,"minutes":2,"utc":true}}, "y": {"datum": 70.07, "type": "quantitative"}}},
  {"data": {"values": [{}]}, "mark": {"type": "text", "text": "H", "color": "#131722", "fontSize": 11.5, "align": "left", "baseline": "middle"},
   "encoding": {"x": {"datum": {"year":2023,"month":11,"date":11,"hours":15,"minutes":6,"utc":true}}, "y": {"datum": 70.07, "type": "quantitative"}}},
  {"data": {"values": [{}]}, "mark": {"type": "text", "text": "61.05", "color": "#26a69a", "fontSize": 11.5, "align": "left", "baseline": "middle"},
   "encoding": {"x": {"datum": {"year":2023,"month":11,"date":11,"hours":19,"minutes":41,"utc":true}}, "y": {"datum": 70.07, "type": "quantitative"}}},
  {"data": {"values": [{}]}, "mark": {"type": "text", "text": "L", "color": "#131722", "fontSize": 11.5, "align": "left", "baseline": "middle"},
   "encoding": {"x": {"datum": {"year":2023,"month":11,"date":12,"hours":16,"minutes":34,"utc":true}}, "y": {"datum": 70.07, "type": "quantitative"}}},
  {"data": {"values": [{}]}, "mark": {"type": "text", "text": "60.17", "color": "#26a69a", "fontSize": 11.5, "align": "left", "baseline": "middle"},
   "encoding": {"x": {"datum": {"year":2023,"month":11,"date":12,"hours":19,"minutes":2,"utc":true}}, "y": {"datum": 70.07, "type": "quantitative"}}},
  {"data": {"values": [{}]}, "mark": {"type": "text", "text": "C", "color": "#131722", "fontSize": 11.5, "align": "left", "baseline": "middle"},
   "encoding": {"x": {"datum": {"year":2023,"month":11,"date":13,"hours":19,"minutes":53,"utc":true}}, "y": {"datum": 70.07, "type": "quantitative"}}},
  {"data": {"values": [{}]}, "mark": {"type": "text", "text": "60.80", "color": "#26a69a", "fontSize": 11.5, "align": "left", "baseline": "middle"},
   "encoding": {"x": {"datum": {"year":2023,"month":11,"date":14,"hours":0,"minutes":2,"utc":true}}, "y": {"datum": 70.07, "type": "quantitative"}}},
  {"data": {"values": [{}]}, "mark": {"type": "text", "text": "+0.13 (+0.21%)", "color": "#26a69a", "fontSize": 11.5, "align": "left", "baseline": "middle"},
   "encoding": {"x": {"datum": {"year":2023,"month":11,"date":14,"hours":22,"minutes":12,"utc":true}}, "y": {"datum": 70.07, "type": "quantitative"}}},
  {"data": {"values": [{}]}, "mark": {"type": "text", "text": "Vol · SOL", "color": "#131722", "fontSize": 11.5, "align": "left", "baseline": "middle"},
   "encoding": {"x": {"datum": {"year":2023,"month":11,"date":5,"hours":15,"minutes":40,"utc":true}}, "y": {"datum": 68.18, "type": "quantitative"}}},
  {"data": {"values": [{}]}, "mark": {"type": "text", "text": "71.542K", "color": "#26a69a", "fontSize": 11.5, "align": "left", "baseline": "middle"},
   "encoding": {"x": {"datum": {"year":2023,"month":11,"date":7,"hours":0,"minutes":49,"utc":true}}, "y": {"datum": 68.18, "type": "quantitative"}}},
  {"data": {"values": [{}]}, "mark": {"type": "text", "text": "BB (20, SMA, close, 2, 0)", "color": "#131722", "fontSize": 11.5, "align": "left", "baseline": "middle"},
   "encoding": {"x": {"datum": {"year":2023,"month":11,"date":5,"hours":15,"minutes":40,"utc":true}}, "y": {"datum": 66.39, "type": "quantitative"}}},
  {"data": {"values": [{}]}, "mark": {"type": "text", "text": "56.93", "color": "#ff6d00", "fontSize": 11.5, "align": "left", "baseline": "middle"},
   "encoding": {"x": {"datum": {"year":2023,"month":11,"date":9,"hours":6,"minutes":35,"utc":true}}, "y": {"datum": 66.39, "type": "quantitative"}}},
  {"data": {"values": [{}]}, "mark": {"type": "text", "text": "60.81", "color": "#2962ff", "fontSize": 11.5, "align": "left", "baseline": "middle"},
   "encoding": {"x": {"datum": {"year":2023,"month":11,"date":10,"hours":1,"minutes":28,"utc":true}}, "y": {"datum": 66.39, "type": "quantitative"}}},
  {"data": {"values": [{}]}, "mark": {"type": "text", "text": "53.04", "color": "#2962ff", "fontSize": 11.5, "align": "left", "baseline": "middle"},
   "encoding": {"x": {"datum": {"year":2023,"month":11,"date":10,"hours":23,"minutes":34,"utc":true}}, "y": {"datum": 66.39, "type": "quantitative"}}}
]}
]
},
{
"width": 997, "height": 112,
"layer": [
  {"data": {"name": "candles"}, "mark": {"type": "line", "color": "#7e57c2", "strokeWidth": 1, "clip": true, "opacity": 0},
   "encoding": {"x": {"field": "t", "type": "temporal", "scale": {"domain": [{"year":2023,"month":11,"date":5,"hours":11,"minutes":8,"utc":true},{"year":2023,"month":12,"date":1,"hours":6,"minutes":12,"utc":true}], "padding": 0},
       "axis": {"values": [{"year":2023,"month":11,"date":6,"utc":true},{"year":2023,"month":11,"date":9,"utc":true},{"year":2023,"month":11,"date":13,"utc":true},{"year":2023,"month":11,"date":16,"utc":true},{"year":2023,"month":11,"date":20,"utc":true},{"year":2023,"month":11,"date":23,"utc":true},{"year":2023,"month":11,"date":27,"utc":true},{"year":2023,"month":12,"date":1,"utc":true}],
         "labelExpr": "utcdate(datum.value) == 1 ? 'Dec' : '' + utcdate(datum.value)",
         "grid": true, "gridColor": "#f0f3fa", "ticks": false, "domain": false, "labelPadding": 8, "labelFlush": false, "labelOverlap": false,
         "title": "TradingView", "titleX": 23, "titleY": 45, "titleAlign": "left", "titleAnchor": "start", "titleBaseline": "middle", "titleFontSize": 14, "titleFontWeight": "normal", "titleColor": "#131722", "titleFont": "Roboto"}},
     "y": {"field": "r", "type": "quantitative", "scale": {"domain": [25.69, 75.47], "nice": false, "zero": false, "padding": 0},
       "axis": {"orient": "right", "values": [40, 60], "labelExpr": "datum.value == 40 ? '40.00' : ''", "grid": true, "gridColor": "#e9e6f0", "ticks": false, "domain": true, "domainColor": "#e0e3eb", "labelPadding": 7, "title": null, "labelOverlap": false}}}},
  {"data": {"values": [{}]}, "mark": {"type": "rect", "color": "#7e57c2", "opacity": 0.1},
   "encoding": {"x": {"datum": {"year":2023,"month":11,"date":5,"hours":11,"minutes":8,"utc":true}}, "x2": {"datum": {"year":2023,"month":12,"date":1,"hours":6,"minutes":12,"utc":true}},
     "y": {"datum": 30, "type": "quantitative"}, "y2": {"datum": 70}}},
  {"data": {"name": "candles"}, "transform": [{"filter": "datum.r > 74"}], "mark": {"type": "area", "color": "#4caf50", "opacity": 0.25, "clip": true},
   "encoding": {"x": {"field": "t", "type": "temporal"}, "y": {"field": "r", "type": "quantitative"}, "y2": {"datum": 70}}},
  {"data": {"values": [{}]}, "mark": {"type": "rect", "fillOpacity": 0, "stroke": "#e0e3eb", "strokeWidth": 1},
   "encoding": {"x": {"datum": {"year":2023,"month":11,"date":5,"hours":11,"minutes":8,"utc":true}}, "x2": {"datum": {"year":2023,"month":12,"date":2,"hours":20,"minutes":4,"utc":true}}, "y": {"datum": 75.47, "type": "quantitative"}, "y2": {"datum": 13.24}}},
  {"data": {"values": [{}]}, "mark": {"type": "rule", "color": "#e0e3eb", "strokeWidth": 1},
   "encoding": {"x": {"datum": {"year":2023,"month":11,"date":5,"hours":11,"minutes":8,"utc":true}}, "x2": {"datum": {"year":2023,"month":12,"date":2,"hours":20,"minutes":4,"utc":true}}, "y": {"datum": 25.69, "type": "quantitative"}}},
  {"data": {"values": [{}]}, "mark": {"type": "rule", "color": "#e0e3eb", "strokeWidth": 1},
   "encoding": {"x": {"datum": {"year":2023,"month":12,"date":1,"hours":6,"minutes":12,"utc":true}}, "y": {"datum": 25.69, "type": "quantitative"}, "y2": {"datum": 13.24}}},
  {"data": {"values": [{}]}, "mark": {"type": "rule", "color": "#787b86", "strokeDash": [6, 4], "strokeWidth": 1},
   "encoding": {"x": {"datum": {"year":2023,"month":11,"date":5,"hours":11,"minutes":8,"utc":true}}, "x2": {"datum": {"year":2023,"month":12,"date":1,"hours":6,"minutes":12,"utc":true}}, "y": {"datum": 70, "type": "quantitative"}}},
  {"data": {"values": [{}]}, "mark": {"type": "rule", "color": "#787b86", "strokeDash": [6, 4], "strokeWidth": 1},
   "encoding": {"x": {"datum": {"year":2023,"month":11,"date":5,"hours":11,"minutes":8,"utc":true}}, "x2": {"datum": {"year":2023,"month":12,"date":1,"hours":6,"minutes":12,"utc":true}}, "y": {"datum": 30, "type": "quantitative"}}},
  {"data": {"values": [{}]}, "mark": {"type": "rule", "color": "#787b86", "strokeDash": [6, 4], "strokeWidth": 1, "opacity": 0.5},
   "encoding": {"x": {"datum": {"year":2023,"month":11,"date":5,"hours":11,"minutes":8,"utc":true}}, "x2": {"datum": {"year":2023,"month":12,"date":1,"hours":6,"minutes":12,"utc":true}}, "y": {"datum": 50, "type": "quantitative"}}},
  {"data": {"name": "sma"}, "mark": {"type": "line", "color": "#fbe335", "strokeWidth": 1, "clip": true},
   "encoding": {"x": {"field": "t", "type": "temporal"}, "y": {"field": "s", "type": "quantitative"}}},
  {"data": {"name": "candles"}, "mark": {"type": "line", "color": "#7e57c2", "strokeWidth": 1, "clip": true},
   "encoding": {"x": {"field": "t", "type": "temporal"}, "y": {"field": "r", "type": "quantitative"}}},
  {"data": {"values": [{}]}, "mark": {"type": "bar", "size": 16, "color": "#7e57c2", "cornerRadius": 2},
   "encoding": {"x": {"datum": {"year":2023,"month":12,"date":1,"hours":6,"minutes":12,"utc":true}}, "x2": {"datum": {"year":2023,"month":12,"date":2,"hours":7,"minutes":40,"utc":true}}, "y": {"datum": 69.62, "type": "quantitative"}}},
  {"data": {"values": [{}]}, "mark": {"type": "bar", "size": 16, "color": "#ffeb3b", "cornerRadius": 2},
   "encoding": {"x": {"datum": {"year":2023,"month":12,"date":1,"hours":6,"minutes":12,"utc":true}}, "x2": {"datum": {"year":2023,"month":12,"date":2,"hours":7,"minutes":40,"utc":true}}, "y": {"datum": 50.03, "type": "quantitative"}}},
  {"data": {"values": [{}]}, "mark": {"type": "text", "text": "69.62", "color": "white", "fontWeight": "bold", "fontSize": 12.5, "align": "left", "baseline": "middle"},
   "encoding": {"x": {"datum": {"year":2023,"month":12,"date":1,"hours":10,"minutes":32,"utc":true}}, "y": {"datum": 69.62, "type": "quantitative"}}},
  {"data": {"values": [{}]}, "mark": {"type": "text", "text": "50.03", "color": "#131722", "fontSize": 12.5, "align": "left", "baseline": "middle"},
   "encoding": {"x": {"datum": {"year":2023,"month":12,"date":1,"hours":10,"minutes":32,"utc":true}}, "y": {"datum": 50.03, "type": "quantitative"}}},
  {"data": {"values": [{}]}, "mark": {"type": "text", "text": "57.90", "color": "#131722", "fontSize": 12, "align": "left", "baseline": "middle"},
   "encoding": {"x": {"datum": {"year":2023,"month":12,"date":1,"hours":10,"minutes":32,"utc":true}}, "y": {"datum": 57.9, "type": "quantitative"}}},
  {"data": {"values": [{}]}, "mark": {"type": "text", "text": "32.27", "color": "#131722", "fontSize": 12, "align": "left", "baseline": "middle"},
   "encoding": {"x": {"datum": {"year":2023,"month":12,"date":1,"hours":10,"minutes":32,"utc":true}}, "y": {"datum": 32.27, "type": "quantitative"}}},
  {"data": {"values": [{}]}, "mark": {"type": "text", "text": "RSI (14, close, SMA, 14, 2)", "color": "#131722", "fontSize": 12, "align": "left", "baseline": "middle"},
   "encoding": {"x": {"datum": {"year":2023,"month":11,"date":5,"hours":15,"minutes":40,"utc":true}}, "y": {"datum": 68.36, "type": "quantitative"}}},
  {"data": {"values": [{}]}, "mark": {"type": "text", "text": "69.62", "color": "#7e57c2", "fontSize": 12, "align": "left", "baseline": "middle"},
   "encoding": {"x": {"datum": {"year":2023,"month":11,"date":9,"hours":11,"minutes":22,"utc":true}}, "y": {"datum": 68.36, "type": "quantitative"}}},
  {"data": {"values": [{}]}, "mark": {"type": "text", "text": "50.03", "color": "#f5d90a", "fontSize": 12, "align": "left", "baseline": "middle"},
   "encoding": {"x": {"datum": {"year":2023,"month":11,"date":10,"hours":10,"minutes":40,"utc":true}}, "y": {"datum": 68.36, "type": "quantitative"}}},
  {"data": {"values": [{}]}, "mark": {"type": "text", "text": "∅  ∅  ∅  ∅  ∅  ∅", "color": "#131722", "fontSize": 12, "align": "left", "baseline": "middle"},
   "encoding": {"x": {"datum": {"year":2023,"month":11,"date":11,"hours":9,"minutes":56,"utc":true}}, "y": {"datum": 68.36, "type": "quantitative"}}},
  {"data": {"values": [{}]}, "mark": {"type": "text", "text": "TV", "color": "#131722", "font": "DejaVu Sans", "fontWeight": "bold", "fontSize": 14, "align": "left", "baseline": "middle", "letterSpacing": -1},
   "encoding": {"x": {"datum": {"year":2023,"month":11,"date":5,"hours":11,"minutes":8,"utc":true}}, "y": {"datum": 5.7, "type": "quantitative"}}}
]
}
]
}
